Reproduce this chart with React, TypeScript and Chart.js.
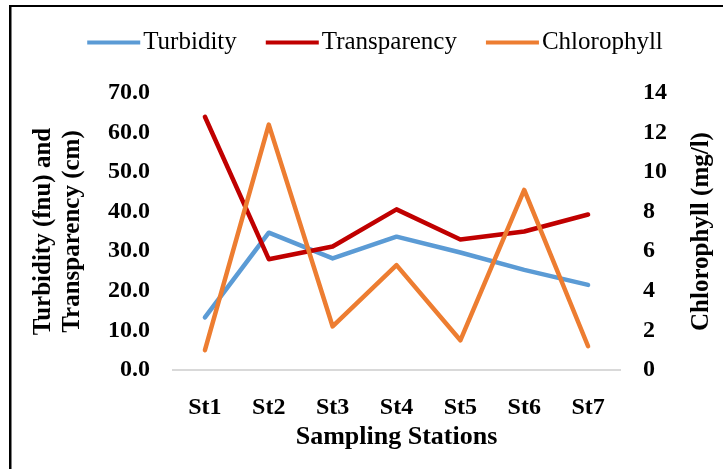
import React, { useEffect, useRef } from 'react';
import { Chart, registerables } from 'chart.js';

Chart.register(...registerables);

const stations = ['St1', 'St2', 'St3', 'St4', 'St5', 'St6', 'St7'];
const turbidity = [13.3, 34.7, 28.2, 33.7, 29.7, 25.3, 21.5];
const transparency = [64.0, 28.0, 31.2, 40.6, 33.0, 35.0, 39.3];
const chlorophyll = [1.0, 12.4, 2.2, 5.3, 1.5, 9.1, 1.2];
const seriesNames = ['Turbidity', 'Transparency', 'Chlorophyll'];
const seriesColors = ['#5B9BD5', '#C00000', '#ED7D31'];
const leftTickLabels = ['0.0', '10.0', '20.0', '30.0', '40.0', '50.0', '60.0', '70.0'];
const rightTickLabels = ['0', '2', '4', '6', '8', '10', '12', '14'];
const leftTitle = ['Turbidity (fnu) and', 'Transparency (cm)'];
const rightTitle = 'Chlorophyll (mg/l)';
const xTitle = 'Sampling Stations';

const FONT = "'Liberation Serif', 'Times New Roman', serif";

const decorPlugin = {
  id: 'decor',
  beforeDraw(chart: any) {
    const ctx = chart.ctx;
    ctx.save();
    ctx.fillStyle = '#ffffff';
    ctx.fillRect(0, 0, chart.width, chart.height);
    ctx.restore();
  },
  afterDraw(chart: any) {
    const ctx = chart.ctx;
    ctx.save();
    // frame (top and left edges visible)
    ctx.fillStyle = '#000000';
    ctx.fillRect(9, 5, chart.width - 9, 2);
    ctx.fillRect(9, 5, 2.5, chart.height - 5);

    // legend
    ctx.font = `25px ${FONT}`;
    const lineW = 53;
    const gap = 3;
    const spacing = 29;
    const widths = seriesNames.map((n) => ctx.measureText(n).width);
    const total = widths.reduce((a, w) => a + lineW + gap + w, 0) + spacing * (seriesNames.length - 1);
    let x = 375 - total / 2;
    const y = 42.5;
    ctx.textBaseline = 'alphabetic';
    ctx.textAlign = 'left';
    seriesNames.forEach((name, i) => {
      ctx.fillStyle = seriesColors[i];
      ctx.fillRect(x, y - 2, lineW, 4);
      ctx.fillStyle = '#000000';
      ctx.fillText(name, x + lineW + gap, 48.5);
      x += lineW + gap + widths[i] + spacing;
    });

    // right axis title, reading bottom-to-top
    const area = chart.chartArea;
    ctx.translate(701.7, (area.top + area.bottom) / 2);
    ctx.rotate(-Math.PI / 2);
    ctx.font = `bold 25px ${FONT}`;
    ctx.textAlign = 'center';
    ctx.textBaseline = 'middle';
    ctx.fillStyle = '#000000';
    ctx.fillText(rightTitle, 0, 0);
    ctx.restore();
  },
};

export default function App() {
  const canvasRef = useRef<HTMLCanvasElement | null>(null);

  useEffect(() => {
    const canvas = canvasRef.current;
    if (!canvas) return;
    const common = {
      borderWidth: 4.5,
      pointRadius: 0,
      tension: 0,
      borderCapStyle: 'round',
      borderJoinStyle: 'round',
    };
    const chart = new Chart(canvas, {
      type: 'line',
      data: {
        labels: stations,
        datasets: [
          {
            ...common,
            label: seriesNames[0],
            data: turbidity,
            borderColor: seriesColors[0],
            backgroundColor: seriesColors[0],
            yAxisID: 'y',
            order: 2,
          },
          {
            ...common,
            label: seriesNames[1],
            data: transparency,
            borderColor: seriesColors[1],
            backgroundColor: seriesColors[1],
            yAxisID: 'y',
            order: 1,
          },
          {
            ...common,
            label: seriesNames[2],
            data: chlorophyll,
            borderColor: seriesColors[2],
            backgroundColor: seriesColors[2],
            yAxisID: 'y1',
            order: 0,
          },
        ],
      },
      options: {
        responsive: false,
        animation: false,
        devicePixelRatio: 1,
        layout: { padding: { top: 93, left: 12, right: 0, bottom: 0 } },
        plugins: {
          legend: { display: false },
          tooltip: { enabled: false },
        },
        scales: {
          x: {
            offset: true,
            grid: { display: false, drawTicks: false },
            border: { display: true, color: '#D9D9D9', width: 2 },
            ticks: {
              color: '#000000',
              padding: 23,
              font: { family: FONT, size: 24, weight: 'bold' },
            },
            title: {
              display: true,
              text: xTitle,
              color: '#000000',
              padding: { top: 0, bottom: 16 },
              font: { family: FONT, size: 26, weight: 'bold' },
            },
            afterFit: (s: any) => {
              s.height = 99;
            },
          },
          y: {
            position: 'left',
            min: 0,
            max: 70,
            grid: { display: false, drawTicks: false },
            border: { display: false },
            ticks: {
              stepSize: 10,
              color: '#000000',
              padding: 23,
              font: { family: FONT, size: 24, weight: 'bold' },
              callback: (_v: any, i: number) => leftTickLabels[i],
            },
            title: {
              display: true,
              text: leftTitle,
              color: '#000000',
              padding: { top: 17.5, bottom: 0 },
              font: { family: FONT, size: 25, weight: 'bold', lineHeight: 1.16 },
            },
            afterFit: (s: any) => {
              s.width = 161;
            },
          },
          y1: {
            position: 'right',
            min: 0,
            max: 14,
            grid: { display: false, drawTicks: false },
            border: { display: false },
            ticks: {
              stepSize: 2,
              color: '#000000',
              padding: 23,
              font: { family: FONT, size: 24, weight: 'bold' },
              callback: (_v: any, i: number) => rightTickLabels[i],
            },
            afterFit: (s: any) => {
              s.width = 103;
            },
          },
        },
      } as any,
      plugins: [decorPlugin],
    });
    return () => chart.destroy();
  }, []);

  return (
    <div style={{ position: 'fixed', left: 0, top: 0, width: 723, height: 469, overflow: 'hidden', background: '#fff' }}>
      <canvas ref={canvasRef} width={723} height={469} style={{ display: 'block' }} />
    </div>
  );
}
